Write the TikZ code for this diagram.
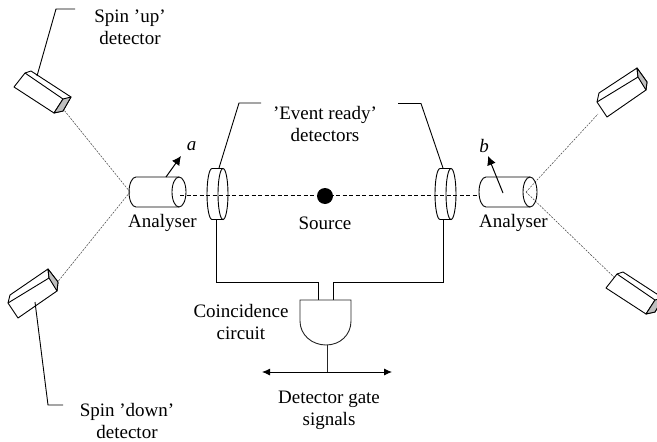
\documentclass[tikz,border=0pt]{standalone}
\usepackage{fontspec}
\setmainfont{Liberation Serif}
\usetikzlibrary{arrows.meta}
\definecolor{facegray}{gray}{0.75}
\tikzset{
  x=1pt,y=-1pt,
  wire/.style={draw=black,line width=0.9pt},
  beam/.style={draw=black,line width=0.8pt,dash pattern=on 4pt off 2.5pt},
  ray/.style={draw=black!75,line width=0.5pt,dash pattern=on 2pt off 1.2pt},
  body/.style={draw=black,line width=0.9pt,fill=white,line join=round},
  face/.style={draw=black,line width=0.9pt,fill=facegray,line join=round},
  lab/.style={font=\fontsize{19}{22}\selectfont,align=center,inner sep=0pt,text=black},
  pointer/.style={draw=black,line width=1pt,-{Latex[length=9pt,width=9pt]}},
  tick/.style={draw=black,line width=0.9pt,{Latex[length=8pt,width=7pt]}-{Latex[length=8pt,width=7pt]}}
}
\begin{document}
\begin{tikzpicture}
\useasboundingbox (0,0) rectangle (657,442);
\clip (0,0) rectangle (657,442);
% key points
\coordinate (axisL) at (180,195.5);
\coordinate (axisR) at (479,195.5);
\coordinate (hubL) at (130,192);
\coordinate (hubR) at (526,192);
\coordinate (upEnd) at (64,110);
\coordinate (downEnd) at (56,284);
\coordinate (rUpEnd) at (598,114);
\coordinate (rDownEnd) at (620,283);
% beams
\draw[beam] (axisL) -- (axisR);
\draw[ray] (hubL) -- (upEnd);
\draw[ray] (hubL) -- (downEnd);
\draw[ray] (hubR) -- (rUpEnd);
\draw[ray] (hubR) -- (rDownEnd);
% source
\node[circle,fill=black,minimum size=16pt,inner sep=0pt] (source) at (325,196) {};
\node[lab] (sourcelab) at (325,223) {Source};
% analysers
\draw[wire] (179,177) -- (136,177) arc[start angle=270,end angle=90,x radius=7,y radius=15] -- (179,207);
\draw[wire] (179,192) ellipse[x radius=7,y radius=15];
\draw[wire] (530,177) -- (486,177) arc[start angle=270,end angle=90,x radius=7,y radius=15] -- (530,207);
\draw[wire] (530,192) ellipse[x radius=7,y radius=15];
\coordinate (aS) at (166,177); \coordinate (aT) at (181,156);
\coordinate (bS) at (503,193); \coordinate (bT) at (488,156);
\draw[pointer] (aS) -- (aT);
\draw[pointer] (bS) -- (bT);
\node[lab] (alab) at (191.5,146) {\itshape a};
\node[lab] (blab) at (484,146) {\itshape b};
\node[lab] (an1) at (162.5,223) {Analyser};
\node[lab] (an2) at (513.5,223) {Analyser};
% event-ready detectors
\draw[wire] (223,168.5) -- (212,168.5) arc[start angle=270,end angle=90,x radius=5,y radius=25.5] -- (223,219.5);
\draw[wire] (223,194) ellipse[x radius=5,y radius=25.5];
\draw[wire] (451,168.5) -- (440,168.5) arc[start angle=270,end angle=90,x radius=5,y radius=25.5] -- (451,219.5);
\draw[wire] (451,194) ellipse[x radius=5,y radius=25.5];
\node[lab] (evt) at (325,124) {'Event ready'\\detectors};
\coordinate (e1) at (219,168); \coordinate (e2) at (239,103); \coordinate (e3) at (261,103);
\coordinate (e4) at (443,168); \coordinate (e5) at (421,103.5); \coordinate (e6) at (398,103.5);
\draw[wire] (e1) -- (e2) -- (e3);
\draw[wire] (e4) -- (e5) -- (e6);
% circuit
\coordinate (c1) at (216,219.5); \coordinate (c2) at (216,282); \coordinate (c3) at (318,282); \coordinate (c4) at (318,300);
\coordinate (c5) at (443,219.5); \coordinate (c6) at (443,282); \coordinate (c7) at (333,282); \coordinate (c8) at (333,300);
\draw[wire] (c1) -- (c2) -- (c3) -- (c4);
\draw[wire] (c5) -- (c6) -- (c7) -- (c8);
\draw[wire,draw=black!85] (300,300) -- (351,300) -- (351,321) .. controls (351,335) and (340,345) .. (326,345) .. controls (312,345) and (300,335) .. (300,321) -- cycle;
\coordinate (st1) at (327,345); \coordinate (st2) at (327,372);
\draw[wire,draw=black!85] (st1) -- (st2);
\coordinate (g1) at (262,372); \coordinate (g2) at (392,372);
\draw[tick] (g1) -- (g2);
\node[lab] (coinc) at (241,322) {Coincidence\\circuit};
\node[lab] (gate) at (329,410) {Detector gate\\signals};
% spin up detector
\draw[body] (14,87) -- (25,73) -- (31,71) -- (71,97) -- (63,111) -- (54,113) -- cycle;
\draw[wire] (25,73) -- (63,99) -- (54,113);
\draw[face] (63,99) -- (71,97) -- (63,111) -- (54,113) -- cycle;
% spin down detector
\draw[body] (8,303) -- (10,295) -- (48,269) -- (58,282) -- (57,291) -- (18,318) -- cycle;
\draw[wire] (8,303) -- (49,278) -- (48,269);
\draw[face] (48,269) -- (58,282) -- (57,291) -- (49,278) -- cycle;
% right upper detector
\draw[body] (597,102) -- (599,93) -- (637,68) -- (647,82) -- (646,90) -- (607,117) -- cycle;
\draw[wire] (597,102) -- (638,77) -- (637,68);
\draw[face] (637,68) -- (647,82) -- (646,90) -- (638,77) -- cycle;
% right lower detector
\draw[body] (606,288) -- (617,274) -- (623,272) -- (663,298) -- (655,312) -- (646,314) -- cycle;
\draw[wire] (617,274) -- (655,300) -- (646,314);
\draw[face] (655,300) -- (663,298) -- (655,312) -- (646,314) -- cycle;
% detector labels
\coordinate (u1) at (37,76); \coordinate (u2) at (56,9); \coordinate (u3) at (75,9);
\draw[wire] (u1) -- (u2) -- (u3);
\node[lab] (uplab) at (130,27) {Spin 'up'\\detector};
\coordinate (d1) at (35,302); \coordinate (d2) at (48,405); \coordinate (d3) at (63,405);
\draw[wire] (d1) -- (d2) -- (d3);
\node[lab] (downlab) at (127,421) {Spin 'down'\\detector};
\end{tikzpicture}
\end{document}
